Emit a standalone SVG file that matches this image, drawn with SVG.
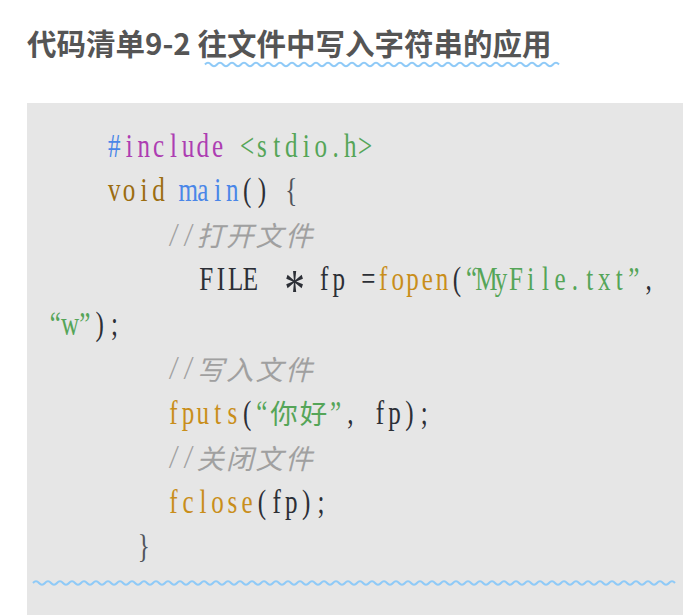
<svg xmlns="http://www.w3.org/2000/svg" width="692" height="615" viewBox="0 0 692 615">
<style>
.lt{font-family:"Liberation Serif","DejaVu Serif",serif;font-size:34px;text-anchor:middle}
.cj{font-family:"Noto Sans CJK SC","Noto Sans CJK JP",sans-serif;font-size:27.5px;text-anchor:middle}
.cm{fill:#a0a0a0;font-style:italic}
.bl{fill:#4a86e8}
.mg{fill:#ad3db2}
.gr{fill:#55a558}
.br{fill:#9c6d10}
.go{fill:#c98e1a}
.dk{fill:#2c2f36}
.pu{fill:#50555c}
.wave{fill:none;stroke:#8fcaf7;stroke-width:2}
.title{font-family:"Noto Sans CJK SC",sans-serif;font-size:29.5px;font-weight:bold;fill:#555}
</style>
<rect width="692" height="615" fill="#ffffff"/>
<g id="title">
<text class="title" x="27" y="55">代码清单9-2 往文件中写入字符串的应用</text>
<path class="wave" d="M205,64.5q3,-3.5 6,0 t6,0t6,0t6,0t6,0t6,0t6,0t6,0t6,0t6,0t6,0 t6,0t6,0t6,0t6,0t6,0t6,0t6,0t6,0t6,0t6,0 t6,0t6,0t6,0t6,0t6,0t6,0t6,0t6,0t6,0t6,0 t6,0t6,0t6,0t6,0t6,0t6,0t6,0t6,0t6,0t6,0 t6,0t6,0t6,0t6,0t6,0t6,0t6,0t6,0t6,0t6,0 t6,0t6,0t6,0t6,0t6,0t6,0t6,0t6,0"/>
</g>
<g id="code-block">
<rect x="27" y="103" width="656" height="512" fill="#e6e6e6"/>
<g id="line-include">
<text class="lt" transform="scale(0.7375 1)" y="157"><tspan class="bl" x="155.1">#</tspan><tspan class="mg" x="175.1 195.1 215.1 235.1 255.1 275.1 295.1 315.1">include </tspan><tspan class="gr" x="335.1 355.1 375.1 395.1 415.1 435.1 455.1 475.1 495.1">&lt;stdio.h&gt;</tspan></text>
</g>
<g id="line-main">
<text class="lt" transform="scale(0.7375 1)" y="201.5"><tspan class="br" x="155.1 175.1 195.1 215.1 235.1">void </tspan><tspan class="bl" x="255.1 275.1 295.1 315.1">main</tspan><tspan class="dk" x="335.1 355.1 375.1">() </tspan><tspan class="pu" x="395.1">{</tspan></text>
</g>
<g id="line-comment-open">
<text class="lt cm" transform="scale(0.7375 1)" y="246" x="235.1 255.1">//</text>
<text class="cj cm" y="246" x="210.25 239.75 269.25 298.75">打开文件</text>
</g>
<g id="line-fopen">
<text class="lt" transform="scale(0.7375 1)" y="290.5"><tspan class="dk" x="279.5 299.5 319.5 339.5 359.5">FILE </tspan><tspan class="dk" x="399.5" y="309.5" style="font-size:56px">*</tspan><tspan class="dk" x="419.5 439.5 459.5 479.5 499.5" y="290.5"> fp =</tspan><tspan class="go" x="519.5 539.5 559.5 579.5 599.5">fopen</tspan><tspan class="dk" x="619.5">(</tspan><tspan class="gr" x="639.5 659.5 679.5 699.5 719.5 739.5 759.5 779.5 799.5 819.5 839.5 859.5">“MyFile.txt”</tspan><tspan class="dk" x="879.5">,</tspan></text>
<text class="lt" transform="scale(0.7375 1)" y="335"><tspan class="gr" x="75.1 95.1 115.1">“w”</tspan><tspan class="dk" x="135.1 155.1">);</tspan></text>
</g>
<g id="line-comment-write">
<text class="lt cm" transform="scale(0.7375 1)" y="379.5" x="235.1 255.1">//</text>
<text class="cj cm" y="379.5" x="210.25 239.75 269.25 298.75">写入文件</text>
</g>
<g id="line-fputs">
<text class="lt" transform="scale(0.7375 1)" y="424"><tspan class="go" x="235.1 255.1 275.1 295.1 315.1">fputs</tspan><tspan class="dk" x="335.1">(</tspan><tspan class="gr" x="355.1">“</tspan></text>
<text class="cj gr" y="424" x="284 313.5">你好</text>
<text class="lt" transform="scale(0.7375 1)" y="424"><tspan class="gr" x="455.1">”</tspan><tspan class="dk" x="475.1 495.1 515.1 535.1 555.1 575.1">, fp);</tspan></text>
</g>
<g id="line-comment-close">
<text class="lt cm" transform="scale(0.7375 1)" y="468.5" x="235.1 255.1">//</text>
<text class="cj cm" y="468.5" x="210.25 239.75 269.25 298.75">关闭文件</text>
</g>
<g id="line-fclose">
<text class="lt" transform="scale(0.7375 1)" y="513"><tspan class="go" x="235.1 255.1 275.1 295.1 315.1 335.1">fclose</tspan><tspan class="dk" x="355.1 375.1 395.1 415.1 435.1">(fp);</tspan></text>
</g>
<g id="line-brace">
<text class="lt pu" transform="scale(0.7375 1)" y="557.5" x="195.1">}</text>
</g>
<path class="wave" d="M33,583q3,-3.5 6,0t6,0t6,0t6,0t6,0t6,0t6,0t6,0t6,0t6,0t6,0 t6,0t6,0t6,0t6,0t6,0t6,0t6,0t6,0t6,0t6,0 t6,0t6,0t6,0t6,0t6,0t6,0t6,0t6,0t6,0t6,0 t6,0t6,0t6,0t6,0t6,0t6,0t6,0t6,0t6,0t6,0 t6,0t6,0t6,0t6,0t6,0t6,0t6,0t6,0t6,0t6,0 t6,0t6,0t6,0t6,0t6,0t6,0t6,0t6,0t6,0t6,0 t6,0t6,0t6,0t6,0t6,0t6,0t6,0t6,0t6,0t6,0 t6,0t6,0t6,0t6,0t6,0t6,0t6,0t6,0t6,0t6,0 t6,0t6,0t6,0t6,0t6,0t6,0t6,0t6,0t6,0t6,0 t6,0t6,0t6,0t6,0t6,0t6,0t6,0t6,0t6,0t6,0 t6,0t6,0t6,0t6,0t6,0t6,0"/>
</g>
</svg>
